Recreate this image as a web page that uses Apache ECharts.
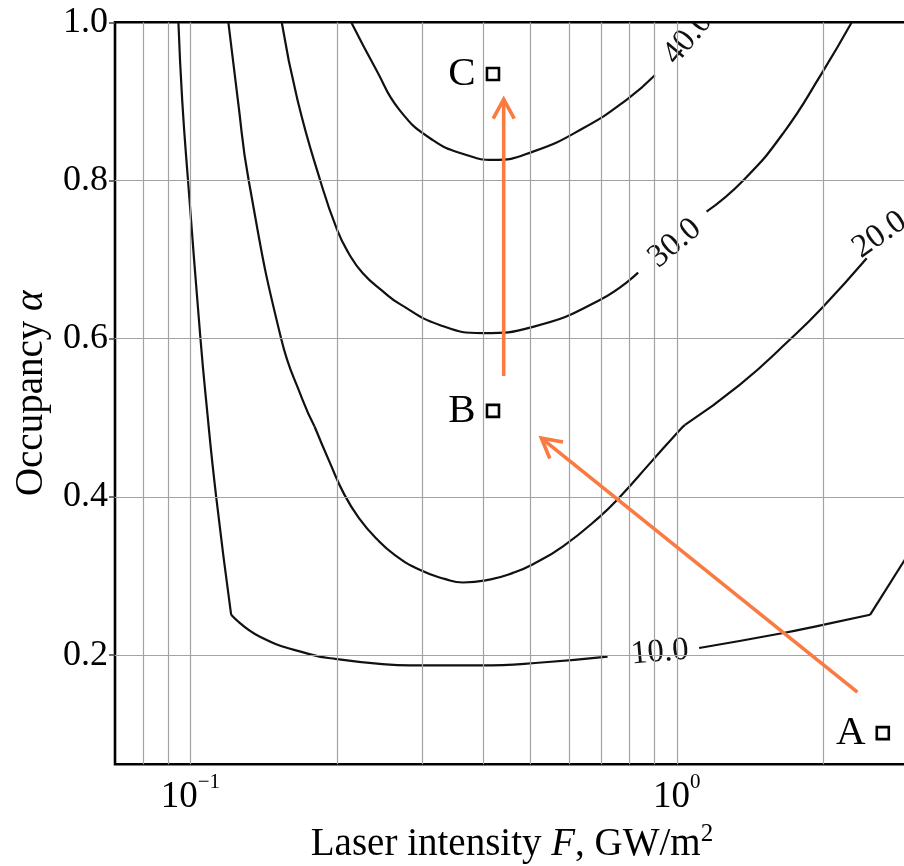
<!DOCTYPE html>
<html><head><meta charset="utf-8">
<script src="https://cdn.jsdelivr.net/npm/echarts@6/dist/echarts.min.js"></script>
<style>html,body{margin:0;padding:0;background:#fff}#c{width:904px;height:866px}</style>
</head><body><div id="c"></div>
<script>
// ---- data (F in GW/m^2, alpha = occupancy) ----
const contour10Upper = [[0.0945,1.0],[0.0962,0.902],[0.0989,0.80],[0.1049,0.60],[0.1077,0.523],[0.113,0.40],[0.1213,0.251]];
const contour10Lower = [[0.1213,0.251],[0.1387,0.2235],[0.1757,0.2013],[0.2003,0.195],[0.2448,0.189],[0.2822,0.187],[0.3932,0.187],[0.535,0.191],[0.7203,0.198]];
const contour10Right = [[1.111,0.209],[1.655,0.228],[1.985,0.238],[2.495,0.251]];
const contour10Edge = [[2.495,0.251],[3.0,0.329]];
const contour20Upper = [[0.1197,1.0],[0.1252,0.902],[0.1318,0.80],[0.1537,0.60],[0.170,0.523],[0.180,0.489]];
const contour20Mid = [[0.180,0.489],[0.1932,0.4443],[0.2074,0.4026],[0.2227,0.3723],[0.2414,0.347],[0.2629,0.3268],[0.2960,0.3078],[0.3332,0.2964],[0.3634,0.2918],[0.4123,0.2955],[0.4605,0.304],[0.5062,0.315],[0.5834,0.3376],[0.6945,0.3752],[0.7634,0.40],[0.880,0.4424],[1.014,0.4847],[1.039,0.491]];
const contour20Right = [[1.039,0.491],[1.348,0.542],[1.708,0.599],[1.985,0.6385],[2.456,0.7017]];
const contour30Left = [[0.1541,1.0],[0.166,0.902],[0.1849,0.80],[0.2003,0.7375],[0.2114,0.7084],[0.2262,0.6828],[0.2495,0.6592],[0.2692,0.644],[0.3253,0.6174],[0.3993,0.607],[0.5062,0.615],[0.6945,0.649],[0.8325,0.6835]];
const contour30Right = [[1.151,0.7606],[1.369,0.80],[1.655,0.860],[1.985,0.9355],[2.288,1.0]];
const contour40 = [[0.2141,1.0],[0.241,0.940],[0.2692,0.889],[0.3151,0.851],[0.3693,0.8323],[0.4188,0.826],[0.5062,0.8365],[0.6415,0.866],[0.788,0.902],[0.9011,0.933]];

const contourLabelText = ['10.0','20.0','30.0','40.0'];
const contourLabelF = [0.9226, 2.61, 0.9906, 1.0535];
const contourLabelAlpha = [0.2035, 0.7312, 0.7207, 0.980];

const pointNames = ['A','B','C'];
const pointF = [2.65, 0.4188, 0.4188];
const pointAlpha = [0.1014, 0.5088, 0.9347];

const arrowFrom = [[0.4406,0.553],[2.35,0.1532]];
const arrowTo = [[0.4406,0.9027],[0.5266,0.4743]];

const yTickValues = [0.2,0.4,0.6,0.8,1.0];
const yGridValues = [0.2,0.4,0.6,0.8];
const xGridValues = [0.08,0.09,0.1,0.2,0.3,0.4,0.5,0.6,0.7,0.8,0.9,1,2];

// ---- styling ----
const SERIF = 'Liberation Serif';
const ORANGE = '#fa7b42';
const labelRotation = [5, 35, 40, 50];

const contourStyle = {color:'#111', width:2.2};
function contourSeries(data){
  return {type:'line', data:data, smooth:0.5, showSymbol:false, symbol:'none',
    lineStyle:contourStyle, itemStyle:{color:'#111'}, silent:true, z:3};
}

const chart = echarts.init(document.getElementById('c'), null, {renderer:'canvas'});
const option = {
  animation:false,
  backgroundColor:'#fff',
  grid:{left:115, right:-5, top:22.3, bottom:101.7, show:true, containLabel:false, outerBoundsMode:'none',
    borderColor:'#000', borderWidth:2.6, backgroundColor:'transparent'},
  xAxis:{
    type:'log', logBase:10, min:0.07, max:3,
    axisLine:{show:false}, axisTick:{show:false}, splitLine:{show:false},
    axisLabel:{
      margin:8, color:'#000',
      formatter:function(v){
        const e = Math.log10(v); const r = Math.round(e);
        if (Math.abs(e-r) > 1e-6) return '';
        return '{m|10}{s|' + (r<0 ? '\u2212' + (-r) : r) + '}';
      },
      rich:{
        m:{fontFamily:SERIF, fontSize:37, lineHeight:50, color:'#000'},
        s:{fontFamily:SERIF, fontSize:21, lineHeight:17, verticalAlign:'top', color:'#000'}
      }
    },
    name:'Laser intensity {i|F}, GW/m{s|2}', nameLocation:'middle', nameGap:58,
    nameTextStyle:{fontFamily:SERIF, fontSize:39, lineHeight:44, color:'#000',
      rich:{
        i:{fontFamily:SERIF, fontStyle:'italic', fontSize:39, lineHeight:44, color:'#000'},
        s:{fontFamily:SERIF, fontSize:25, lineHeight:26, verticalAlign:'top', color:'#000'}
      }}
  },
  yAxis:{
    type:'value', min:0.062, max:1.0,
    axisLine:{show:false},
    axisTick:{show:true, inside:false, length:6, customValues:yTickValues, lineStyle:{color:'#444', width:1.5}},
    splitLine:{show:false},
    axisLabel:{customValues:yTickValues, margin:7, fontFamily:SERIF, fontSize:36, color:'#000',
      formatter:function(v){ return v.toFixed(1); }},
    name:'Occupancy {i|\u03b1}', nameLocation:'middle', nameGap:64,
    nameTextStyle:{fontFamily:SERIF, fontSize:39, color:'#000',
      rich:{i:{fontFamily:SERIF, fontStyle:'italic', fontSize:39, color:'#000'}}}
  },
  series:[
    {type:'line', data:[[0.5,0.5]], symbol:'none', lineStyle:{width:0, opacity:0}, silent:true, z:1,
      markLine:{silent:true, symbol:['none','none'], animation:false, label:{show:false},
        lineStyle:{color:'#a3a3a3', width:1.2, type:'solid'},
        emphasis:{disabled:true},
        data: xGridValues.map(v=>({xAxis:v})).concat(yGridValues.map(v=>({yAxis:v})))}
    },
    contourSeries(contour10Upper),
    contourSeries(contour10Lower),
    contourSeries(contour10Right),
    contourSeries(contour10Edge),
    contourSeries(contour20Upper),
    contourSeries(contour20Mid),
    contourSeries(contour20Right),
    contourSeries(contour30Left),
    contourSeries(contour30Right),
    contourSeries(contour40),
    {type:'custom', clip:true, silent:true, z:4,
      data: contourLabelText.map((t,i)=>[contourLabelF[i], contourLabelAlpha[i]]),
      renderItem:function(params, api){
        const p = api.coord([api.value(0), api.value(1)]);
        return {type:'text', x:p[0], y:p[1], rotation:labelRotation[params.dataIndex]*Math.PI/180,
          style:{text:contourLabelText[params.dataIndex], font:'33px "' + SERIF + '"', fill:'#111', align:'center', verticalAlign:'middle'}};
      }
    },
    {type:'custom', silent:true, z:5,
      data: arrowFrom.map((f,i)=>[f[0], f[1], arrowTo[i][0], arrowTo[i][1]]),
      encode:{x:[0,2], y:[1,3]},
      renderItem:function(params, api){
        const p1 = api.coord([api.value(0), api.value(1)]);
        const p2 = api.coord([api.value(2), api.value(3)]);
        const ang = Math.atan2(p2[1]-p1[1], p2[0]-p1[0]);
        const L = 22, h = 0.5;
        const a1 = [p2[0]-L*Math.cos(ang-h), p2[1]-L*Math.sin(ang-h)];
        const a2 = [p2[0]-L*Math.cos(ang+h), p2[1]-L*Math.sin(ang+h)];
        return {type:'group', children:[
          {type:'line', shape:{x1:p1[0], y1:p1[1], x2:p2[0], y2:p2[1]}, style:{stroke:ORANGE, lineWidth:3.6}},
          {type:'polyline', shape:{points:[a1, p2, a2]}, style:{stroke:ORANGE, lineWidth:3.6, fill:null}}
        ]};
      }
    },
    {type:'scatter', silent:true, z:6,
      data: pointNames.map((n,i)=>({name:n, value:[pointF[i], pointAlpha[i]]})),
      symbol:'rect', symbolSize:12,
      itemStyle:{color:'#fff', borderColor:'#000', borderWidth:2.6, opacity:1},
      label:{show:true, position:'left', distance:10, formatter:'{b}', fontFamily:SERIF, fontSize:41, color:'#000', opacity:1}
    }
  ]
};
chart.setOption(option);
</script>
</body></html>
